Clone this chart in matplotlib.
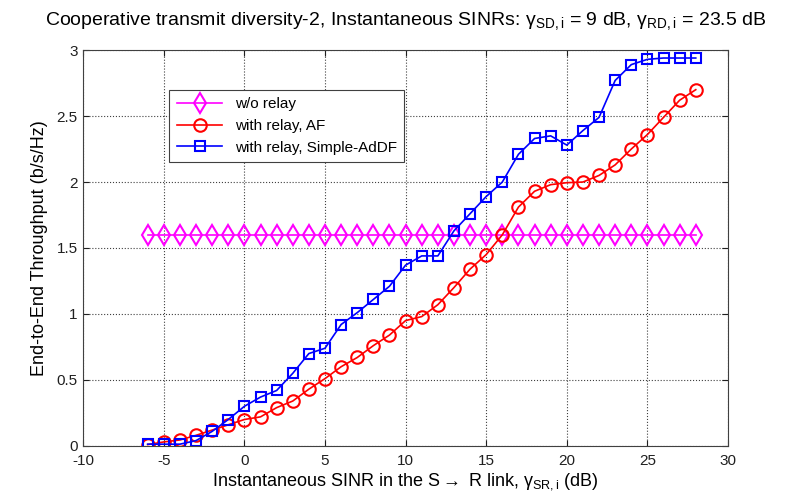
import numpy as np
import matplotlib
matplotlib.use('Agg')
import matplotlib.pyplot as plt

plt.rcParams['font.family'] = ['Liberation Sans', 'DejaVu Sans']
plt.rcParams['mathtext.fontset'] = 'custom'
plt.rcParams['mathtext.rm'] = 'Liberation Sans'
plt.rcParams['mathtext.it'] = 'Liberation Sans:italic'
plt.rcParams['mathtext.sf'] = 'Liberation Sans'
plt.rcParams['axes.unicode_minus'] = False

# SNR on the S->R link (dB)
snr_sr = list(range(-6, 29))

# throughput values
wo_relay = [1.6] * len(snr_sr)
af = [0.01, 0.03, 0.045, 0.08, 0.12, 0.16, 0.20, 0.22, 0.29, 0.34, 0.43, 0.51,
      0.60, 0.67, 0.76, 0.84, 0.95, 0.98, 1.07, 1.20, 1.34, 1.45, 1.60, 1.81,
      1.93, 1.98, 1.995, 2.00, 2.05, 2.13, 2.25, 2.36, 2.49, 2.62, 2.70]
adf = [0.013, 0.013, 0.013, 0.04, 0.11, 0.20, 0.30, 0.37, 0.42, 0.55, 0.70, 0.74,
       0.92, 1.01, 1.11, 1.21, 1.37, 1.44, 1.44, 1.63, 1.76, 1.89, 2.00, 2.21,
       2.33, 2.35, 2.28, 2.39, 2.49, 2.77, 2.89, 2.93, 2.94, 2.94, 2.94]

fig = plt.figure(figsize=(8, 5.01), dpi=100)
ax = fig.add_axes([0.104, 0.11, 0.806, 0.79])

ax.plot(snr_sr, wo_relay, color='#ff00ff', marker='d', markersize=10,
        markerfacecolor='none', markeredgewidth=1.5, linewidth=1.2, label='w/o relay')
ax.plot(snr_sr, af, color='#ff0000', marker='o', markersize=9,
        markerfacecolor='none', markeredgewidth=1.5, linewidth=1.2, label='with relay, AF')
ax.plot(snr_sr, adf, color='#0000ff', marker='s', markersize=7.5,
        markerfacecolor='none', markeredgewidth=1.5, linewidth=1.2,
        label='with relay, Simple-AdDF')

ax.set_xlim(-10, 30)
ax.set_ylim(0, 3)
ax.set_xticks(np.arange(-10, 31, 5))
ax.set_yticks(np.arange(0, 3.01, 0.5))
ax.set_yticklabels(['0', '0.5', '1', '1.5', '2', '2.5', '3'])
ax.tick_params(direction='in', labelsize=11, length=4, top=True, right=True,
               colors='#202020')
ax.tick_params(axis='x', pad=6)
ax.tick_params(axis='y', pad=4)
ax.grid(True, linestyle=':', color='#404040', linewidth=0.8)
for s in ax.spines.values():
    s.set_linewidth(0.8)
    s.set_color('#404040')

ax.set_xlabel(r'Instantaneous SINR in the S$\rightarrow$ R link, γ$_{\mathrm{SR,i}}$ (dB)',
              fontsize=13, labelpad=2)
ax.set_ylabel('End-to-End Throughput (b/s/Hz)', fontsize=13, labelpad=6)
ax.set_title(r'Cooperative transmit diversity-2, Instantaneous SINRs: '
             r'γ$_{\mathrm{SD,i}}$ = 9 dB, γ$_{\mathrm{RD,i}}$ = 23.5 dB',
             fontsize=14, pad=18)

leg = ax.legend(loc='upper left', bbox_to_anchor=(0.133, 0.9), fontsize=11,
                fancybox=False, edgecolor='#404040', framealpha=1,
                handlelength=3, borderpad=0.5, labelspacing=0.5,
                borderaxespad=0)
leg.get_frame().set_linewidth(0.8)

fig.savefig('out.png', dpi=100)
